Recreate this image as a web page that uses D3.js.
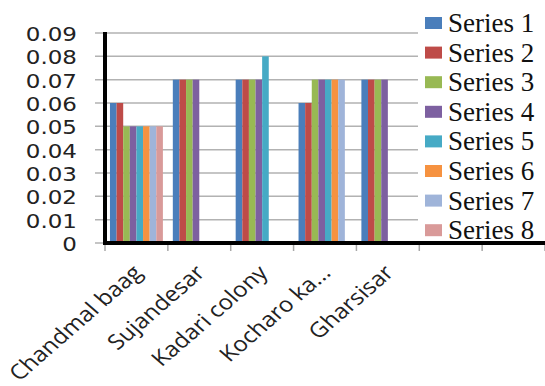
<!DOCTYPE html>
<html>
<head>
<meta charset="utf-8">
<script src="https://cdn.jsdelivr.net/npm/d3@7/dist/d3.min.js"></script>
<style>
  html, body { margin: 0; padding: 0; background: #fff; }
  svg { display: block; }
  .ylab { font-family: "DejaVu Sans", sans-serif; font-size: 19px; fill: #222; }
  .xlab { font-family: "Open Sans", sans-serif; font-size: 21px; fill: #222; }
  .leg  { font-family: "Liberation Serif", "Times New Roman", "DejaVu Serif", serif; font-size: 27px; fill: #111; }
</style>
</head>
<body>
<svg id="chart" width="545" height="386"></svg>
<script>
// Category labels (the last two slots are empty)
const categories = ["Chandmal baag", "Sujandesar", "Kadari colony", "Kocharo ka...", "Gharsisar", "", ""];
const seriesNames = ["Series 1", "Series 2", "Series 3", "Series 4", "Series 5", "Series 6", "Series 7", "Series 8"];
const seriesColors = ["#4a7ebb", "#be4b48", "#98b954", "#7d60a0", "#46aac5", "#f69240", "#9fb4d9", "#d99a99"];

// One array per series, one value per category (null = no bar)
const series1 = [0.06, 0.07, 0.07, 0.06, 0.07, null, null];
const series2 = [0.06, 0.07, 0.07, 0.06, 0.07, null, null];
const series3 = [0.05, 0.07, 0.07, 0.07, 0.07, null, null];
const series4 = [0.05, 0.07, 0.07, 0.07, 0.07, null, null];
const series5 = [0.05, null, 0.08, 0.07, null, null, null];
const series6 = [0.05, null, null, 0.07, null, null, null];
const series7 = [0.05, null, null, 0.07, null, null, null];
const series8 = [0.05, null, null, null, null, null, null];
const seriesValues = [series1, series2, series3, series4, series5, series6, series7, series8];

const yTicks = [0, 0.01, 0.02, 0.03, 0.04, 0.05, 0.06, 0.07, 0.08, 0.09];

const svg = d3.select("#chart");
const plotLeft = 105, plotRight = 545, plotTop = 33, plotBottom = 243;

const x = d3.scaleBand().domain(d3.range(categories.length)).range([plotLeft, plotRight]).paddingInner(0).paddingOuter(0);
const slot = x.bandwidth();
const barW = slot / 9.5;
const xs = d3.scaleBand().domain(d3.range(seriesNames.length))
  .range([slot * 0.75 / 9.5, slot * 0.75 / 9.5 + barW * seriesNames.length]);
const y = d3.scaleLinear().domain([0, 0.09]).range([plotBottom, plotTop]);

// Gridlines with short ticks left of the axis
svg.append("g").selectAll("line").data(yTicks).join("line")
  .attr("x1", plotLeft - 10).attr("x2", plotRight)
  .attr("y1", d => y(d)).attr("y2", d => y(d))
  .attr("stroke", "#b2b2b2").attr("stroke-width", 1.5);

// Category ticks below the axis
svg.append("g").selectAll("line").data(d3.range(categories.length + 1)).join("line")
  .attr("x1", i => plotLeft + i * slot).attr("x2", i => plotLeft + i * slot)
  .attr("y1", plotBottom).attr("y2", plotBottom + 8)
  .attr("stroke", "#a8a8a8").attr("stroke-width", 1.5);

// Bars
const groups = svg.append("g").selectAll("g").data(seriesValues).join("g")
  .attr("fill", (d, i) => seriesColors[i]);
groups.each(function (vals, si) {
  d3.select(this).selectAll("rect")
    .data(vals.map((v, ci) => ({ v, ci })).filter(d => d.v != null))
    .join("rect")
    .attr("x", d => x(d.ci) + xs(si))
    .attr("width", barW)
    .attr("y", d => y(d.v))
    .attr("height", d => y(0) - y(d.v));
});

// Y tick labels
svg.append("g").selectAll("text").data(yTicks).join("text")
  .attr("class", "ylab")
  .attr("transform", d => `translate(77,${y(d) + 8}) scale(1.21,1)`)
  .attr("text-anchor", "end")
  .text(d => d === 0 ? "0" : d.toFixed(2));

// Category labels, rotated
svg.append("g").selectAll("text").data(categories).join("text")
  .attr("class", "xlab")
  .attr("transform", (d, i) => `translate(${x(i) + slot / 2 + 7},${plotBottom + 31}) scale(1.15,1) rotate(-45)`)
  .attr("text-anchor", "end")
  .text(d => d);

// Legend
const legend = svg.append("g");
legend.append("rect").attr("x", 418).attr("y", 0).attr("width", 127).attr("height", 239).attr("fill", "#fff");
const items = legend.selectAll("g").data(seriesNames).join("g")
  .attr("transform", (d, i) => `translate(425,${23 + i * 29.6})`);
items.append("rect").attr("x", 0).attr("y", -6).attr("width", 17).attr("height", 12)
  .attr("fill", (d, i) => seriesColors[i]);
items.append("text").attr("class", "leg").attr("x", 23).attr("y", 9)
  .text(d => d);

// Axis lines
svg.append("line").attr("x1", plotLeft).attr("x2", plotLeft).attr("y1", plotTop - 1).attr("y2", plotBottom + 2)
  .attr("stroke", "#000").attr("stroke-width", 4);
svg.append("line").attr("x1", plotLeft - 2).attr("x2", plotRight).attr("y1", plotBottom).attr("y2", plotBottom)
  .attr("stroke", "#000").attr("stroke-width", 4);
</script>
</body>
</html>
